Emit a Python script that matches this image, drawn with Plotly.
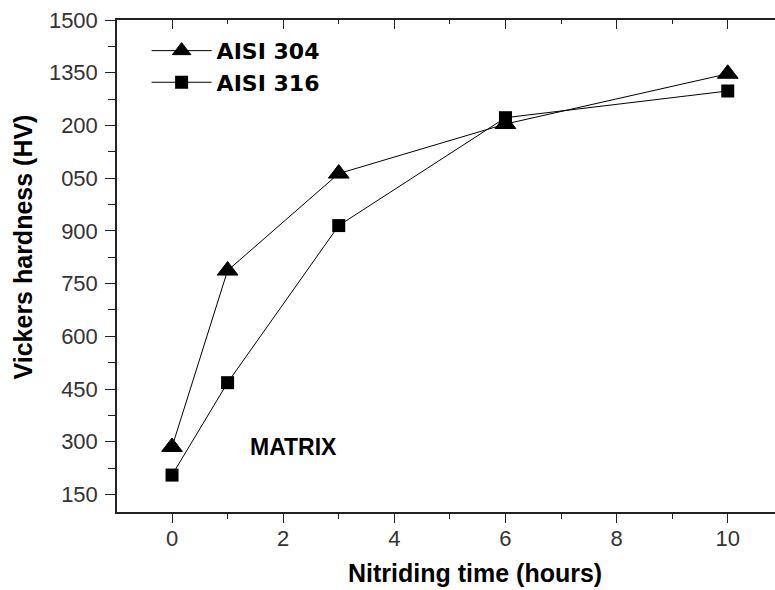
import plotly.graph_objects as go

# Data
hours = [0, 1, 3, 6, 10]
aisi_304 = [285, 787, 1063, 1204, 1347]
aisi_316 = [205, 468, 915, 1222, 1298]

y_tick_vals = [150, 300, 450, 600, 750, 900, 1050, 1200, 1350, 1500]
y_tick_text = ["150", "300", "450", "600", "750", "900", "050", "200", "1350", "1500"]
y_minor_vals = [225, 375, 525, 675, 825, 975, 1125, 1275, 1425]
x_tick_vals = [0, 2, 4, 6, 8, 10]
x_minor_vals = [1, 3, 5, 7, 9]

FONT = "Liberation Sans, Arial, sans-serif"
LEG_FONT = "DejaVu Sans, sans-serif"
AX = "#222222"

# plot-area geometry in pixels (used to place free titles)
L, R, T, B = 117, 775, 20, 512
PW, PH = R - L, B - T

fig = go.Figure()
fig.add_trace(go.Scatter(
    x=hours, y=aisi_304, name="AISI 304", mode="lines+markers",
    line=dict(color="black", width=1),
    marker=dict(symbol="triangle-up", size=18, color="black",
                line=dict(color="black", width=1)),
))
fig.add_trace(go.Scatter(
    x=hours, y=aisi_316, name="AISI 316", mode="lines+markers",
    line=dict(color="black", width=1),
    marker=dict(symbol="square", size=13, color="black"),
))
# empty trace to carry the top mirror axis
fig.add_trace(go.Scatter(x=[], y=[], xaxis="x2", yaxis="y",
                         showlegend=False, hoverinfo="skip"))

fig.update_layout(
    width=775, height=590,
    margin=dict(l=L, r=775 - R, t=T, b=590 - B),
    paper_bgcolor="white", plot_bgcolor="white",
    font=dict(family=FONT, color="black"),
    showlegend=True,
    legend=dict(x=0.045, y=0.98, xanchor="left", yanchor="top",
                bgcolor="rgba(0,0,0,0)", borderwidth=0,
                font=dict(family=LEG_FONT, size=22, color="black",
                          weight="bold"),
                itemwidth=60, tracegroupgap=0),
    xaxis=dict(
        range=[-0.99, 10.85], showgrid=False, zeroline=False,
        showline=True, linecolor=AX, linewidth=1.5,
        tickmode="array", tickvals=x_tick_vals,
        ticks="outside", ticklen=9, tickwidth=1.3, tickcolor=AX,
        ticklabelstandoff=-3,
        minor=dict(tickmode="array", tickvals=x_minor_vals,
                   ticks="outside", ticklen=5, tickwidth=1.3, tickcolor=AX),
        tickfont=dict(family=FONT, size=22, color="#333333"),
        automargin=False,
    ),
    xaxis2=dict(
        overlaying="x", matches="x", side="top", anchor="y",
        range=[-0.99, 10.85], showgrid=False, zeroline=False,
        showline=True, linecolor=AX, linewidth=1.5,
        tickmode="array", tickvals=x_tick_vals, showticklabels=False,
        ticks="inside", ticklen=9, tickwidth=1.3, tickcolor=AX,
        minor=dict(tickmode="array", tickvals=x_minor_vals,
                   ticks="inside", ticklen=4, tickwidth=1.3, tickcolor=AX),
    ),
    yaxis=dict(
        range=[100, 1500], showgrid=False, zeroline=False,
        showline=True, linecolor=AX, linewidth=1.5,
        tickmode="array", tickvals=y_tick_vals, ticktext=y_tick_text,
        ticks="outside", ticklen=10, tickwidth=1.3, tickcolor=AX,
        ticklabelstandoff=3,
        minor=dict(tickmode="array", tickvals=y_minor_vals,
                   ticks="outside", ticklen=7, tickwidth=1.3, tickcolor=AX),
        tickfont=dict(family=FONT, size=22, color="#333333"),
        automargin=False,
    ),
    annotations=[
        dict(text="<b>MATRIX</b>", x=2.19, y=284, xref="x", yref="y",
             showarrow=False, font=dict(family=FONT, size=23, color="black")),
        dict(text="<b>Nitriding time (hours)</b>",
             x=(474.5 - L) / PW, y=(B - 589) / PH,
             xref="paper", yref="paper", xanchor="center", yanchor="bottom",
             showarrow=False, font=dict(family=FONT, size=25, color="black")),
        dict(text="<b>Vickers hardness (HV)</b>",
             x=(22 - L) / PW, y=(B - 247.5) / PH,
             xref="paper", yref="paper", xanchor="center", yanchor="middle",
             textangle=-90, showarrow=False,
             font=dict(family=FONT, size=25, color="black")),
    ],
)

fig.write_html("out.html", config={"displayModeBar": False},
               post_script="document.body.style.margin='0';")
